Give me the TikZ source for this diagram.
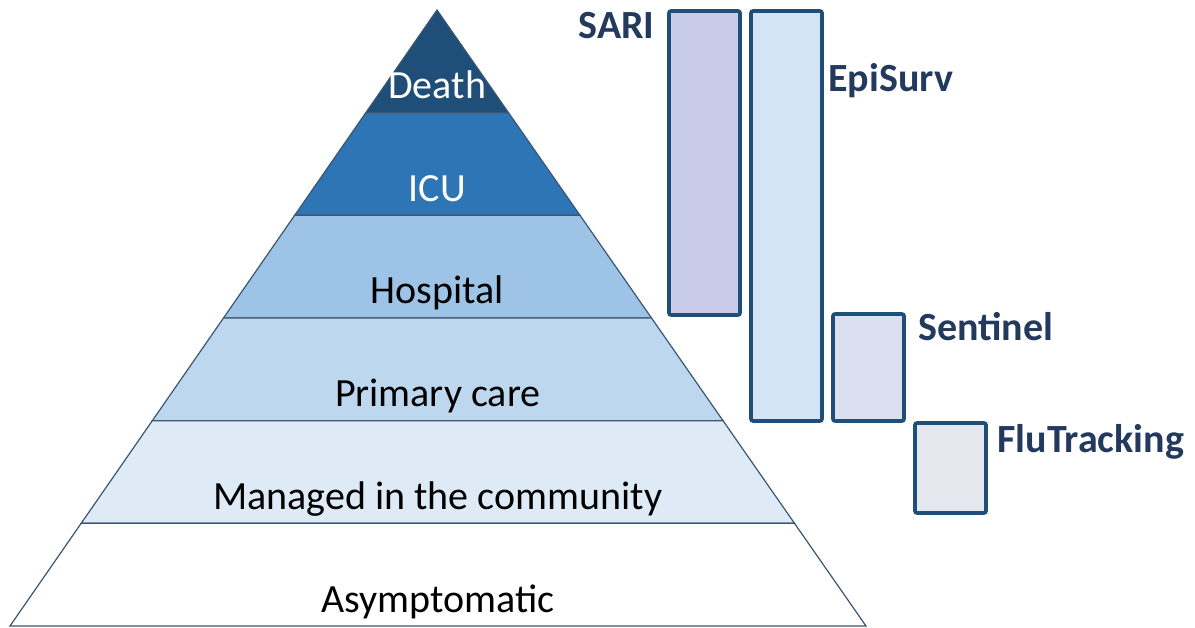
\documentclass[tikz,border=0pt]{standalone}
\usepackage{fontspec}
\setmainfont{Carlito}
\usetikzlibrary{calc}

\definecolor{deathblue}{HTML}{1F4E79}
\definecolor{icublue}{HTML}{2E75B6}
\definecolor{hospblue}{HTML}{9DC3E6}
\definecolor{primblue}{HTML}{BDD7EE}
\definecolor{commblue}{HTML}{DEEBF7}
\definecolor{edgegray}{HTML}{3B5670}
\definecolor{barnavy}{HTML}{1F4E79}
\definecolor{labelnavy}{HTML}{233A5E}
\definecolor{sarifill}{HTML}{C9CCE8}
\definecolor{epifill}{HTML}{D3E4F6}
\definecolor{sentfill}{HTML}{DAE0F0}
\definecolor{flufill}{HTML}{E4E8EE}

\begin{document}
\begin{tikzpicture}[x=0.5pt, y=0.5pt,
    layer/.style={draw=edgegray, line width=0.6pt},
    layertext/.style={font=\fontsize{20}{24}\selectfont, anchor=base, inner sep=0pt},
    bar/.style={draw=barnavy, line width=1.8pt, rounded corners=1pt},
    barlabel/.style={font=\fontsize{20}{24}\selectfont\bfseries, text=labelnavy, inner sep=0pt}]
    \useasboundingbox (0,0) rectangle (1195,627);
    \coordinate (apex) at (437,617);
    \coordinate (baseL) at (10,1);
    \coordinate (baseR) at (866,1);
    \coordinate (baseM) at (438,1);

    % pyramid, top to bottom
    \foreach \i/\col/\txtcol/\name/\txt in {1/deathblue/white/death/Death,
        2/icublue/white/icu/ICU, 3/hospblue/black/hospital/Hospital,
        4/primblue/black/primary/Primary care, 5/commblue/black/community/Managed in the community,
        6/white/black/asympt/Asymptomatic}
    {
        \pgfmathsetmacro{\ta}{(\i-1)/6}
        \pgfmathsetmacro{\tb}{\i/6}
        \filldraw[layer, fill=\col] ($(apex)!\ta!(baseL)$) -- ($(apex)!\ta!(baseR)$)
            -- ($(apex)!\tb!(baseR)$) -- ($(apex)!\tb!(baseL)$) -- cycle;
        \node[layertext, text=\txtcol] (\name) at ($(apex)!\tb!(baseM) + (0,14)$) {\txt};
    }

    % surveillance systems
    \draw[bar, fill=sarifill] (669,312) rectangle (740,616);
    \draw[bar, fill=epifill] (751,206) rectangle (822,616);
    \draw[bar, fill=sentfill] (833,206) rectangle (904,313);
    \draw[bar, fill=flufill] (915,114) rectangle (986,204);

    \node[barlabel, anchor=base east] (sarilbl) at (655,588) {SARI};
    \node[barlabel, anchor=base west] (episurvlbl) at (828,535) {EpiSurv};
    \node[barlabel, anchor=base west] (sentinellbl) at (918,286) {Sentinel};
    \node[barlabel, anchor=base west] (flulbl) at (997,174) {FluTracking};
\end{tikzpicture}
\end{document}
